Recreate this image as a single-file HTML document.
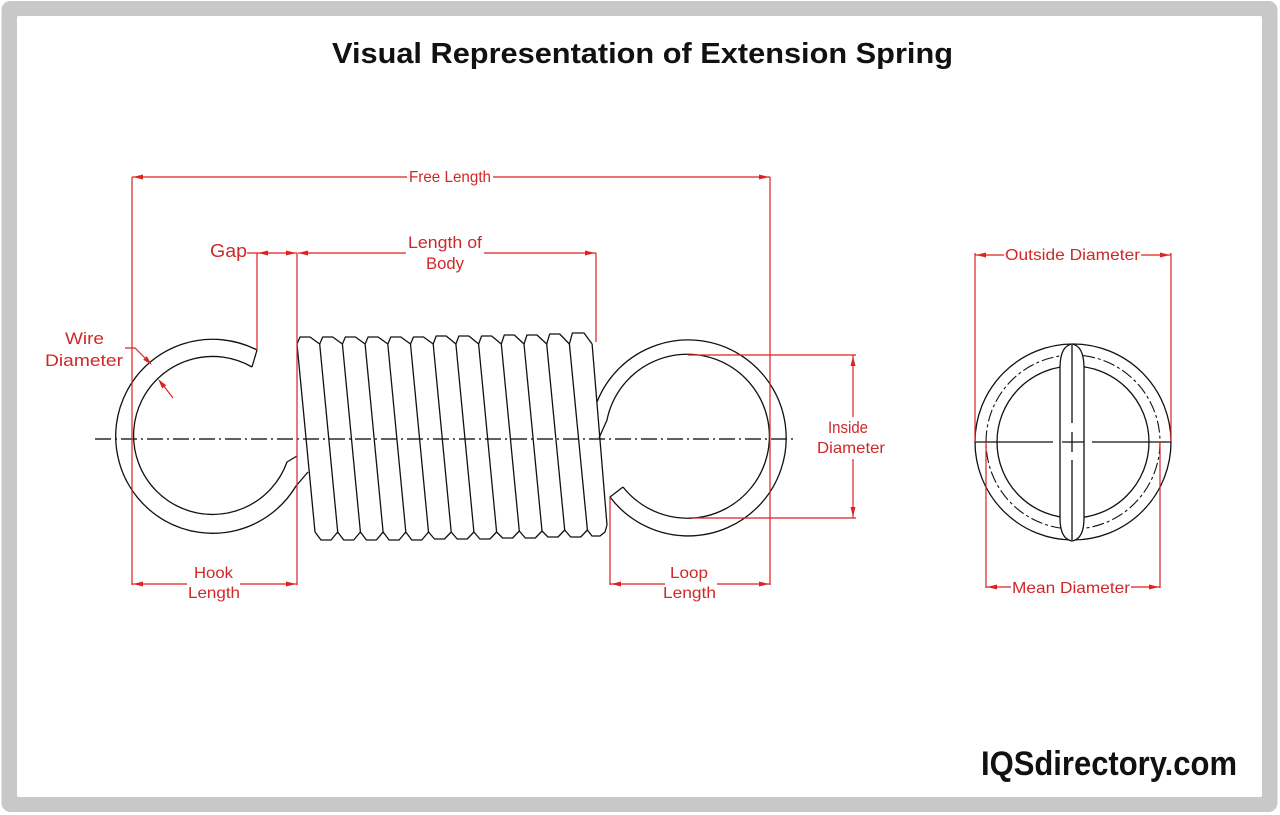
<!DOCTYPE html>
<html><head><meta charset="utf-8"><style>
html,body{margin:0;padding:0;background:#fff;}
svg{display:block;}
text{font-family:"Liberation Sans",Arial,sans-serif;}
.lbl{fill:#d02828;font-size:16px;}
</style></head><body>
<svg width="1280" height="815" viewBox="0 0 1280 815" xmlns="http://www.w3.org/2000/svg">
<rect x="1.5" y="1" width="1276" height="811" rx="9" fill="#c8c8c8"/>
<rect x="17" y="16" width="1245" height="781" rx="2" fill="#fff"/>

<text x="332" y="63" font-size="29" font-weight="bold" textLength="621" lengthAdjust="spacingAndGlyphs" fill="#111">Visual Representation of Extension Spring</text>
<text x="981" y="775" font-size="34" font-weight="bold" textLength="256" lengthAdjust="spacingAndGlyphs" fill="#111">IQSdirectory.com</text>

<!-- centerline -->
<line x1="95" y1="439" x2="797" y2="439" stroke="#000" stroke-width="1.3" stroke-dasharray="16 4 2 4"/>

<!-- spring drawing -->
<g fill="none" stroke="#111" stroke-width="1.3" stroke-linejoin="round">
  <!-- hook -->
  <path d="M257,350 A97,97 0 1 0 296,486 L308,472"/>
  <path d="M252,367 A79,79 0 1 0 287,462 L297,456"/>
  <line x1="257" y1="350" x2="252" y2="367"/>
  <!-- body top bumps -->
  <path d="M297,344 L300,337 L310,337 L319.7,344 L322.7,337 L332.7,337 L342.4,344 L345.4,337 L355.4,337 L365.1,344 L368.1,337 L378.1,337 L387.8,344 L390.8,337 L400.8,337 L410.5,344 L413.5,337 L423.5,337 L433.2,344 L436.2,336 L446.2,336 L455.9,344 L458.9,336 L468.9,336 L478.6,344 L481.6,336 L491.6,336 L501.3,344 L504.3,335 L514.3,335 L524,344 L527,335 L537,335 L546.7,344 L549.7,334 L559.7,334 L569.4,344 L572.4,333 L584,333 L592.1,344"/>
  <!-- slanted coil lines -->
  <path d="M297,344 L315,532 M319.7,344 L337.7,532 M342.4,344 L360.4,532 M365.1,344 L383.1,532 M387.8,344 L405.8,532 M410.5,344 L428.5,532 M433.2,344 L451.2,532 M455.9,344 L473.9,532 M478.6,344 L496.6,532 M501.3,344 L519.3,531 M524,344 L542,531 M546.7,344 L564.7,530 M569.4,344 L587.4,530 M592.1,344 L607,525"/>
  <!-- bottom bumps -->
  <path d="M315,532 L321,540 L331,540 L337.7,532 L343.7,540 L353.7,540 L360.4,532 L366.4,540 L376.4,540 L383.1,532 L389.1,540 L399.1,540 L405.8,532 L411.8,540 L421.8,540 L428.5,532 L434.5,539 L444.5,539 L451.2,532 L457.2,539 L467.2,539 L473.9,532 L479.9,539 L489.9,539 L496.6,532 L502.6,538 L512.6,538 L519.3,531 L525.3,538 L535.3,538 L542,531 L548,537 L558,537 L564.7,530 L570.7,537 L580.7,537 L587.4,530 L592,536 L600,536 L605,532 L607,525"/>
  <!-- loop -->
  <path d="M597,402 A98,98 0 1 1 610,497 L623,487"/>
  <path d="M623,487 A82,82 0 1 0 607,420 L599,438"/>
  <!-- end view -->
  <circle cx="1073" cy="442" r="98"/>
  <circle cx="1073" cy="442" r="87" stroke-dasharray="12 3 3 3" stroke-width="1.1"/>
  <circle cx="1073" cy="442" r="76"/>
  <path d="M1060,368 Q1060,346 1072,344 Q1084,346 1084,368 L1084,518 Q1084,539 1072,541 Q1060,539 1060,518 Z" fill="#fff"/>
  <path d="M975,442 L1053,442 M1062,442 L1084,442 M1092,442 L1171,442 M1072,345 L1072,423 M1072,432 L1072,452 M1072,460 L1072,540"/>
</g>

<!-- red dimension lines -->
<g stroke="#dd2222" stroke-width="1.2" fill="none">
  <path d="M132,177 L132,585 M770,177 L770,585 M257,253 L257,350 M297,253 L297,585 M596,253 L596,342 M610,497 L610,585"/>
  <path d="M132,177 L407,177 M493,177 L770,177"/>
  <path d="M247,253 L297,253 M298,253 L406,253 M484,253 L596,253"/>
  <path d="M132,584 L187,584 M240,584 L297,584 M610,584 L665,584 M717,584 L770,584"/>
  <path d="M688,355 L856,355 M692,518 L856,518 M853,355 L853,417 M853,459 L853,518"/>
  <path d="M975,253 L975,442 M1171,253 L1171,442 M975,255 L1004,255 M1141,255 L1171,255"/>
  <path d="M986,442 L986,588 M1160,442 L1160,588 M986,587 L1011,587 M1131,587 L1160,587"/>
  <path d="M125,348 L135,348 L150,363 M173,398 L160,381"/>
</g>
<g fill="#dd2222">
  <polygon points="133,177 143,174.5 143,179.5"/>
  <polygon points="769,177 759,174.5 759,179.5"/>
  <polygon points="258,253 268,250.5 268,255.5"/>
  <polygon points="296,253 286,250.5 286,255.5"/>
  <polygon points="298,253 308,250.5 308,255.5"/>
  <polygon points="595,253 585,250.5 585,255.5"/>
  <polygon points="133,584 143,581.5 143,586.5"/>
  <polygon points="296,584 286,581.5 286,586.5"/>
  <polygon points="611,584 621,581.5 621,586.5"/>
  <polygon points="769,584 759,581.5 759,586.5"/>
  <polygon points="853,356 850.5,366 855.5,366"/>
  <polygon points="853,517 850.5,507 855.5,507"/>
  <polygon points="976,255 986,252.5 986,257.5"/>
  <polygon points="1170,255 1160,252.5 1160,257.5"/>
  <polygon points="987,587 997,584.5 997,589.5"/>
  <polygon points="1159,587 1149,584.5 1149,589.5"/>
  <polygon points="152,365 143.2,359.8 146.8,356.2"/>
  <polygon points="158,379 166.2,385.3 162.2,388.4"/>
</g>

<!-- labels -->
<text class="lbl" x="409" y="182" font-size="14" textLength="82" lengthAdjust="spacingAndGlyphs">Free Length</text>
<text class="lbl" x="210" y="257" style="font-size:18px" textLength="37" lengthAdjust="spacingAndGlyphs">Gap</text>
<text class="lbl" x="408" y="248" style="font-size:17px" textLength="74" lengthAdjust="spacingAndGlyphs">Length of</text>
<text class="lbl" x="426" y="269" style="font-size:17px" textLength="38" lengthAdjust="spacingAndGlyphs">Body</text>
<text class="lbl" x="65" y="344" style="font-size:17px" textLength="39" lengthAdjust="spacingAndGlyphs">Wire</text>
<text class="lbl" x="45" y="366" style="font-size:17px" textLength="78" lengthAdjust="spacingAndGlyphs">Diameter</text>
<text class="lbl" x="194" y="578" textLength="39" lengthAdjust="spacingAndGlyphs">Hook</text>
<text class="lbl" x="188" y="598" textLength="52" lengthAdjust="spacingAndGlyphs">Length</text>
<text class="lbl" x="670" y="578" textLength="38" lengthAdjust="spacingAndGlyphs">Loop</text>
<text class="lbl" x="663" y="598" textLength="53" lengthAdjust="spacingAndGlyphs">Length</text>
<text class="lbl" x="828" y="433" style="font-size:17px" textLength="40" lengthAdjust="spacingAndGlyphs">Inside</text>
<text class="lbl" x="817" y="453" textLength="68" lengthAdjust="spacingAndGlyphs">Diameter</text>
<text class="lbl" x="1005" y="260" textLength="135" lengthAdjust="spacingAndGlyphs">Outside Diameter</text>
<text class="lbl" x="1012" y="593" textLength="118" lengthAdjust="spacingAndGlyphs">Mean Diameter</text>
</svg>
</body></html>
